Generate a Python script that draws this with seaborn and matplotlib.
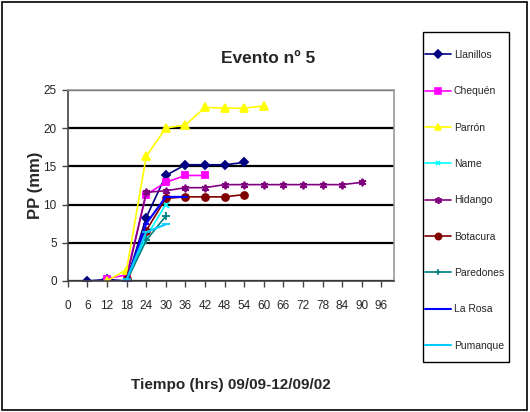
import matplotlib
matplotlib.use("Agg")
import matplotlib.pyplot as plt
from matplotlib.lines import Line2D
from matplotlib.patches import Rectangle
import seaborn as sns
import pandas as pd

sns.set_style("white")
plt.rcParams["font.family"] = ["Liberation Sans", "DejaVu Sans"]

# Accumulated precipitation per station (mm) vs. time (hrs)
llanillos_t = [6, 12, 18, 24, 30, 36, 42, 48, 54]
llanillos_pp = [0, 0.2, 0, 8.3, 13.8, 15.2, 15.2, 15.2, 15.5]
chequen_t = [12, 18, 24, 30, 36, 42]
chequen_pp = [0.3, 0.8, 11.3, 12.9, 13.8, 13.8]
parron_t = [12, 18, 24, 30, 36, 42, 48, 54, 60]
parron_pp = [0, 1.5, 16.3, 20.0, 20.4, 22.7, 22.6, 22.6, 22.9]
name_t = [18, 24, 30]
name_pp = [0, 5.8, 10.0]
hidango_t = [18, 24, 30, 36, 42, 48, 54, 60, 66, 72, 78, 84, 90]
hidango_pp = [0.3, 11.6, 11.8, 12.2, 12.2, 12.6, 12.6, 12.6, 12.6, 12.6, 12.6, 12.6, 12.9]
botacura_t = [18, 24, 30, 36, 42, 48, 54]
botacura_pp = [0.3, 6.6, 10.8, 11.0, 11.0, 11.0, 11.3]
paredones_t = [18, 24, 30]
paredones_pp = [0, 5.3, 8.5]
larosa_t = [18, 24, 30, 36]
larosa_pp = [0, 7.5, 11.0, 11.0]
pumanque_t = [18, 24, 30]
pumanque_pp = [0.2, 6.4, 7.4]

x_ticks = list(range(0, 97, 6))
y_ticks = [0, 5, 10, 15, 20, 25]

series = [
    ("Llanillos", llanillos_t, llanillos_pp, "#000080", "D", 4.5, 1.2),
    ("Chequén", chequen_t, chequen_pp, "#FF00FF", "s", 4.5, 1.2),
    ("Parrón", parron_t, parron_pp, "#FFFF00", "^", 5.5, 1.2),
    ("Name", name_t, name_pp, "#00FFFF", "x", 4, 1.2),
    ("Hidango", hidango_t, hidango_pp, "#800080", (6, 2, 0), 5.5, 1.2),
    ("Botacura", botacura_t, botacura_pp, "#800000", "o", 5, 1.2),
    ("Paredones", paredones_t, paredones_pp, "#008080", "+", 5.5, 1.2),
    ("La Rosa", larosa_t, larosa_pp, "#0000FF", "_", 4, 1.5),
    ("Pumanque", pumanque_t, pumanque_pp, "#00CCFF", "_", 6, 1.5),
]

fig = plt.figure(figsize=(5.30, 4.12), dpi=100)
ax = fig.add_axes([0.128, 0.318, 0.615, 0.464])

handles = []
for name, t, pp, color, mk, ms, lw in series:
    df = pd.DataFrame({"t": t, "pp": pp})
    sns.lineplot(data=df, x="t", y="pp", ax=ax, color=color, marker=mk,
                 markersize=ms, linewidth=lw, markeredgecolor=color,
                 markeredgewidth=1.3, legend=False)
    handles.append(Line2D([0], [0], color=color, marker=mk, markersize=ms - 0.5,
                          linewidth=lw, markeredgecolor=color, markeredgewidth=1.2,
                          label=name))

ax.set_xlim(0, 99.8)
ax.set_ylim(0, 25)
ax.set_xticks(x_ticks)
ax.set_yticks(y_ticks)
ax.set_xticklabels([str(v) for v in x_ticks], fontsize=8.5)
ax.set_yticklabels([str(v) for v in y_ticks], fontsize=8.5)
ax.tick_params(axis="both", direction="out", length=4, width=1, color="#444444",
               bottom=True, left=True, pad=10)
ax.tick_params(axis="y", pad=4)
ax.yaxis.grid(True, color="black", linewidth=1.6)
ax.xaxis.grid(False)
ax.set_axisbelow(True)
for side in ["top", "right"]:
    ax.spines[side].set_color("#999999")
    ax.spines[side].set_linewidth(1.2)
for side in ["left", "bottom"]:
    ax.spines[side].set_color("#444444")
    ax.spines[side].set_linewidth(1.2)

ax.set_xlabel("Tiempo (hrs) 09/09-12/09/02", fontsize=11, fontweight="bold",
              labelpad=47)
ax.set_ylabel("PP (mm)", fontsize=12, fontweight="bold",
              labelpad=0)
fig.text(0.506, 0.858, "Evento nº 5", ha="center", va="center", fontsize=12.5,
         fontweight="bold")

# Legend entries, with a separate box drawn around them
leg = fig.legend(handles=handles, loc="upper left", bbox_to_anchor=(0.801, 0.879),
                 frameon=False, fontsize=7.5, labelspacing=2.53, handlelength=2.55,
                 handletextpad=0.25, borderpad=0, fancybox=False, borderaxespad=0)
fig.patches.append(Rectangle((423 / 530, 1 - 362 / 412), 86 / 530, 330 / 412,
                             transform=fig.transFigure, fill=False,
                             edgecolor="black", linewidth=1.0))

fig.patches.append(Rectangle((0.004, 0.006), 0.99, 0.988, transform=fig.transFigure,
                             fill=False, edgecolor="black", linewidth=1.2))

fig.savefig("out.png", dpi=100)
